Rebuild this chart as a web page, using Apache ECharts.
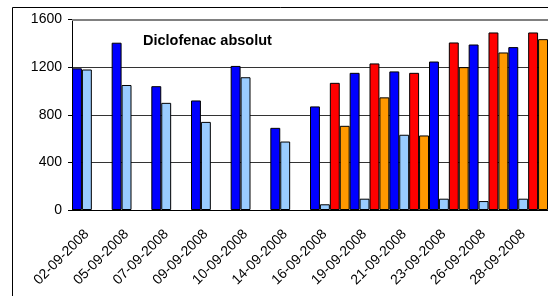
<!DOCTYPE html>
<html>
<head>
<meta charset="utf-8">
<script src="https://cdn.jsdelivr.net/npm/echarts@6/dist/echarts.min.js"></script>
<style>
  html, body { margin: 0; padding: 0; background: #fff; }
  #main { width: 548px; height: 296px; }
</style>
</head>
<body>
<div id="main"></div>
<script>
// data
const dates = ['02-09-2008', '05-09-2008', '07-09-2008', '09-09-2008', '10-09-2008', '14-09-2008',
  '16-09-2008', '19-09-2008', '21-09-2008', '23-09-2008', '26-09-2008', '28-09-2008']
const blue = [1190, 1405, 1040, 920, 1210, 690, 870, 1152, 1164, 1247, 1390, 1368]
const lightBlue = [1180, 1050, 900, 740, 1115, 575, 48, 95, 632, 95, 75, 95]
const red = [null, null, null, null, null, null, 1068, 1231, 1152, 1407, 1491, 1491]
const orange = [null, null, null, null, null, null, 707, 946, 626, 1200, 1323, 1435]
const yTicks = [0, 400, 800, 1200, 1600]

const font = 'Liberation Sans, Arial, sans-serif'
const myChart = echarts.init(document.getElementById('main'))

const bar = (name, data, color) => ({
  name: name,
  type: 'bar',
  data: data,
  barGap: '0%',
  barCategoryGap: '0%',
  itemStyle: { color: color, borderColor: '#000', borderWidth: 1 },
  emphasis: { disabled: true }
})

// top border of the plot area is a thicker grey line
const blueSeries = bar('blue', blue, '#0000FF')
blueSeries.markLine = {
  silent: true,
  symbol: 'none',
  label: { show: false },
  lineStyle: { color: '#808080', width: 2, type: 'solid' },
  data: [{ yAxis: yTicks[yTicks.length - 1] }]
}

myChart.setOption({
  animation: false,
  graphic: [
    {
      type: 'rect',
      shape: { x: 12.5, y: 7.5, width: 600, height: 400 },
      style: { fill: 'none', stroke: '#000', lineWidth: 1 },
      silent: true
    },
    {
      type: 'text',
      left: 143,
      top: 33,
      style: { text: 'Diclofenac absolut', font: 'bold 14.5px ' + font, fill: '#000' }
    }
  ],
  grid: { left: 72, top: 19.5, right: -8, bottom: 86, containLabel: false },
  xAxis: {
    type: 'category',
    data: dates,
    axisLine: { lineStyle: { color: '#000', width: 1 } },
    axisTick: { length: 4, lineStyle: { color: '#000' } },
    axisLabel: {
      rotate: 45, color: '#000', fontSize: 14, fontFamily: font,
      margin: 17, padding: [0, 7, 0, 0]
    }
  },
  yAxis: {
    type: 'value',
    min: yTicks[0],
    max: yTicks[yTicks.length - 1],
    interval: 400,
    axisLine: { show: true, lineStyle: { color: '#000', width: 1 } },
    axisTick: { show: true, inside: false, length: 4, lineStyle: { color: '#000' } },
    axisLabel: { color: '#000', fontSize: 14, fontFamily: font, margin: 10, formatter: v => String(v) },
    splitLine: { lineStyle: { color: ['#000', '#333', '#333', '#333', '#808080'], width: 1 } }
  },
  series: [
    blueSeries,
    bar('lightblue', lightBlue, '#99CCFF'),
    bar('red', red, '#FF0000'),
    bar('orange', orange, '#FF9900')
  ]
})
</script>
</body>
</html>
